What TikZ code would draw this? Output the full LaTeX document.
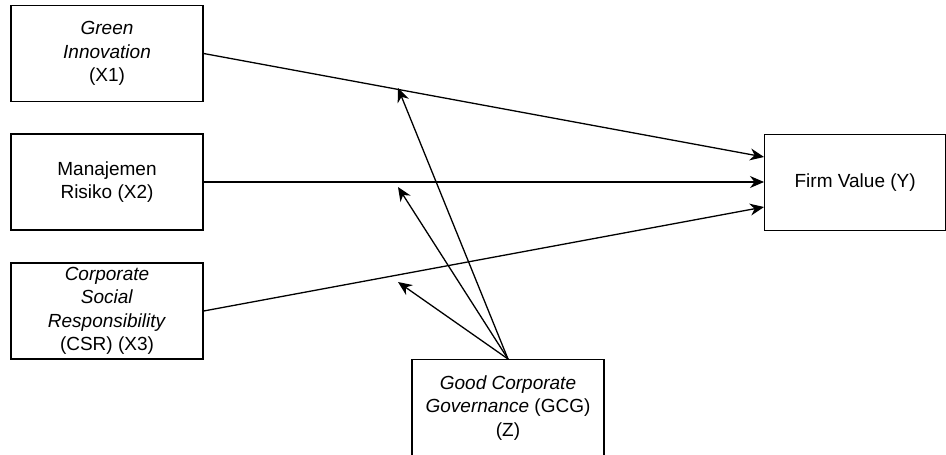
\documentclass[tikz,border=0pt]{standalone}
\usepackage{fontspec}
\setmainfont{Liberation Sans}
\usetikzlibrary{arrows.meta}
\begin{document}
\begin{tikzpicture}[x=1pt,y=-1pt,
  box/.style={draw, line width=1.3pt, minimum width=192pt, minimum height=96pt, align=center,
    font=\fontsize{19}{23.5}\selectfont, inner sep=0pt},
  arr/.style={line width=1.3pt, -{Stealth[length=14pt,width=12pt,inset=4.5pt]}}]
\useasboundingbox (0,0) rectangle (946,455);
\node[box] (x1) at (107,53.5) {\textit{Green}\\\textit{Innovation}\\(X1)};
\node[box] (x2) at (107,182) {Manajemen\\Risiko (X2)};
\node[box] (x3) at (107,311) {\textit{Corporate}\\\textit{Social}\\\textit{Responsibility}\\(CSR) (X3)};
\node[box, minimum width=181pt, anchor=north west] (y) at (764,134) {Firm Value (Y)};
\node[box, anchor=north] (z) at (508,359) {\textit{Good Corporate}\\\textit{Governance} (GCG)\\(Z)};
\coordinate (y1) at (764,157);
\coordinate (y2) at (764,182);
\coordinate (y3) at (764,207);
\coordinate (m1) at (398,88);
\coordinate (m2) at (398,187);
\coordinate (m3) at (398,282);
\draw[arr] (x1.east) -- (y1);
\draw[arr] (x2.east) -- (y2);
\draw[arr] (x3.east) -- (y3);
\draw[arr] (z.north) -- (m1);
\draw[arr] (z.north) -- (m2);
\draw[arr] (z.north) -- (m3);
\end{tikzpicture}
\end{document}
